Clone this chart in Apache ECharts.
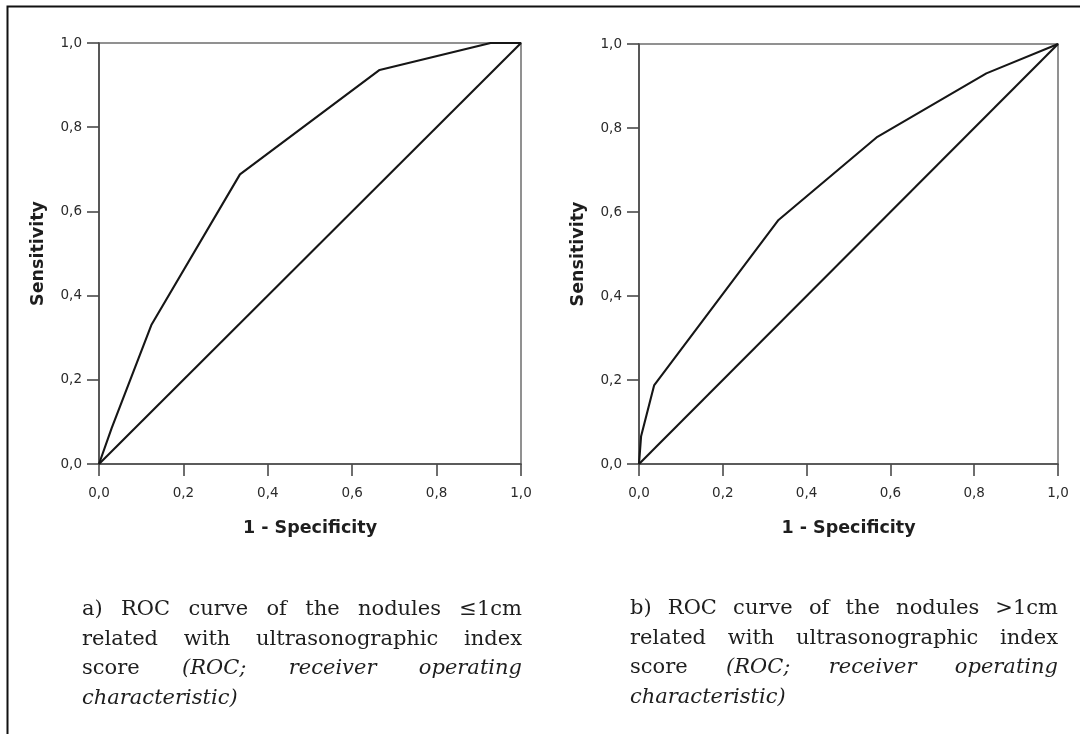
<!DOCTYPE html>
<html>
<head>
<meta charset="utf-8">
<script src="https://cdn.jsdelivr.net/npm/echarts@6/dist/echarts.min.js"></script>
<style>
html,body{margin:0;padding:0;background:#fff;}
#chart{width:1080px;height:734px;}
</style>
</head>
<body>
<div id="chart"></div>
<script>
// ---- data ----
const tickLabels = ['0,0', '0,2', '0,4', '0,6', '0,8', '1,0'];
const xAxisTitle = '1 - Specificity';
const yAxisTitle = 'Sensitivity';

// (a) nodules <=1cm
const rocA_fpr = [0, 0.03, 0.124, 0.334, 0.665, 0.928, 1];
const rocA_tpr = [0, 0.085, 0.33, 0.688, 0.936, 1, 1];
// (b) nodules >1cm
const rocB_fpr = [0, 0.005, 0.036, 0.333, 0.569, 0.829, 1];
const rocB_tpr = [0, 0.066, 0.187, 0.581, 0.779, 0.930, 1];
// reference diagonal
const refX = [0, 1];
const refY = [0, 1];

const captionALines = [
  'a) ROC curve of the nodules \u22641cm',
  'related with ultrasonographic index',
  'score (ROC; receiver operating',
  'characteristic)'
];
const captionBLines = [
  'b) ROC curve of the nodules >1cm',
  'related with ultrasonographic index',
  'score (ROC; receiver operating',
  'characteristic)'
];
const italicWords = ['(ROC;', 'receiver', 'operating', 'characteristic)'];

// ---- helpers ----
const zip = (xs, ys) => xs.map((x, i) => [x, ys[i]]);
const sansFamily = '"DejaVu Sans", Verdana, sans-serif';
const capFont = (it) => (it ? 'italic ' : '') + '21px "DejaVu Serif", serif';
const mctx = document.createElement('canvas').getContext('2d');
function measure(word, it) { mctx.font = capFont(it); return mctx.measureText(word).width; }

function captionElements(lines, left, right, firstY, lineH) {
  const els = [];
  lines.forEach((line, li) => {
    const words = line.split(' ');
    const its = words.map(w => italicWords.indexOf(w) >= 0);
    const widths = words.map((w, i) => measure(w, its[i]));
    const total = widths.reduce((a, b) => a + b, 0);
    const last = li === lines.length - 1;
    const gap = (last || words.length < 2) ? measure(' ', false) : (right - left - total) / (words.length - 1);
    let x = left;
    words.forEach((w, i) => {
      els.push({
        type: 'text', x: x, y: firstY + li * lineH, silent: true,
        style: { text: w, font: capFont(its[i]), fill: '#1e1e1e', align: 'left', verticalAlign: 'middle' }
      });
      x += widths[i] + gap;
    });
  });
  return els;
}

const axisColor = '#4a4a4a';
function xAx(gi) {
  return {
    type: 'value', gridIndex: gi, min: 0, max: 1, interval: 0.2,
    name: xAxisTitle, nameLocation: 'middle', nameGap: 55,
    nameTextStyle: { fontFamily: sansFamily, fontWeight: 'bold', fontSize: 17.5, color: '#1e1e1e' },
    axisLine: { show: true, onZero: false, lineStyle: { color: axisColor, width: 1.6 } },
    axisTick: { show: true, length: 12, lineStyle: { color: axisColor, width: 1.6 } },
    axisLabel: { margin: 22, fontFamily: sansFamily, fontSize: 13.5, color: '#2a2a2a',
      formatter: v => tickLabels[Math.round(v / 0.2)] },
    splitLine: { show: false }
  };
}
function yAx(gi) {
  return {
    type: 'value', gridIndex: gi, min: 0, max: 1, interval: 0.2,
    name: yAxisTitle, nameLocation: 'middle', nameGap: 52,
    nameTextStyle: { fontFamily: sansFamily, fontWeight: 'bold', fontSize: 17.5, color: '#1e1e1e' },
    axisLine: { show: true, onZero: false, lineStyle: { color: axisColor, width: 1.6 } },
    axisTick: { show: true, length: 12, lineStyle: { color: axisColor, width: 1.6 } },
    axisLabel: { margin: 17, fontFamily: sansFamily, fontSize: 13.5, color: '#2a2a2a',
      formatter: v => tickLabels[Math.round(v / 0.2)] },
    splitLine: { show: false }
  };
}
function lineSeries(gi, xs, ys) {
  return {
    type: 'line', xAxisIndex: gi, yAxisIndex: gi, data: zip(xs, ys),
    symbol: 'none', silent: true, animation: false,
    lineStyle: { color: '#161616', width: 2.1 }
  };
}

const chart = echarts.init(document.getElementById('chart'), null, { renderer: 'canvas' });
chart.setOption({
  backgroundColor: '#fff',
  animation: false,
  grid: [
    { left: 99, top: 43, width: 422, height: 421, show: true, borderColor: '#6e6e6e', borderWidth: 1.5, backgroundColor: 'transparent' },
    { left: 639, top: 44, width: 419, height: 420, show: true, borderColor: '#6e6e6e', borderWidth: 1.5, backgroundColor: 'transparent' }
  ],
  xAxis: [xAx(0), xAx(1)],
  yAxis: [yAx(0), yAx(1)],
  series: [
    lineSeries(0, rocA_fpr, rocA_tpr),
    lineSeries(0, refX, refY),
    lineSeries(1, rocB_fpr, rocB_tpr),
    lineSeries(1, refX, refY)
  ],
  graphic: [
    { type: 'polyline', silent: true, shape: { points: [[7.5, 740], [7.5, 6.5], [1090, 6.5]] },
      style: { stroke: '#111', lineWidth: 2, fill: null } }
  ].concat(
    captionElements(captionALines, 82, 522, 610, 29.5),
    captionElements(captionBLines, 630, 1058, 609, 29.5)
  )
});
</script>
</body>
</html>
